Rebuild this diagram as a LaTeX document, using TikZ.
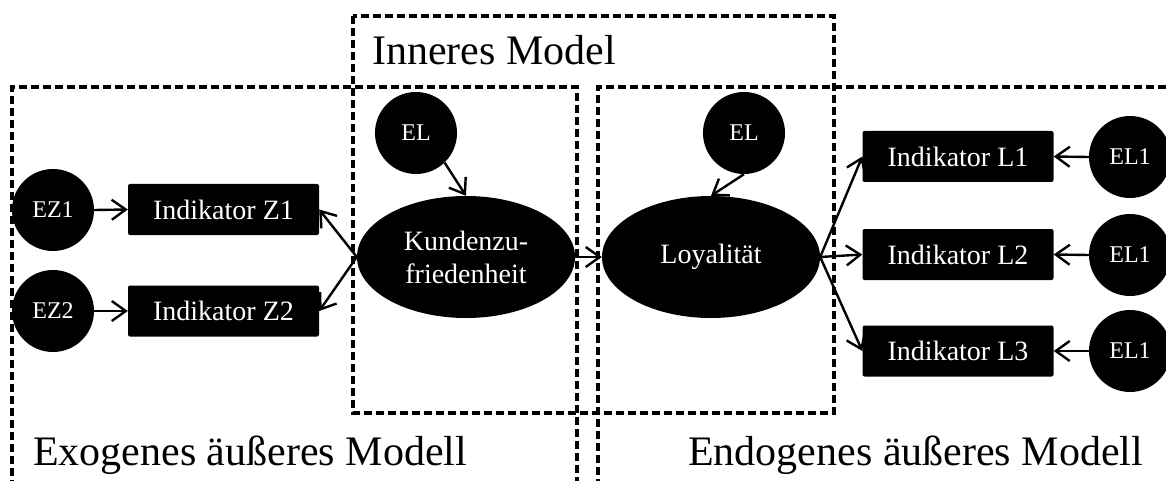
\documentclass[tikz,border=0pt]{standalone}
\usepackage{fontspec}
\setmainfont{Liberation Serif}
\usetikzlibrary{shapes.geometric,arrows.meta}
\begin{document}
\begin{tikzpicture}[x=1pt,y=-1pt,
  circ/.style={circle,fill=black,text=white,minimum size=82pt,inner sep=0pt,font=\fontsize{24}{27}\selectfont},
  ind/.style={rectangle,rounded corners=2pt,fill=black,text=white,minimum width=191pt,minimum height=51pt,inner sep=0pt,font=\fontsize{28}{32}\selectfont},
  lat/.style={ellipse,fill=black,text=white,minimum width=218pt,minimum height=122pt,inner sep=0pt,align=center,font=\fontsize{28}{33}\selectfont},
  dbox/.style={line width=3.2pt,dash pattern=on 8pt off 4pt},
  conn/.style={line width=2.4pt,-{Straight Barb[length=14pt,width=20pt,line width=2.4pt]}},
  title/.style={inner sep=0pt,anchor=base west,font=\fontsize{42}{46}\selectfont}
]
\useasboundingbox (0,0) rectangle (1166,481);
% dashed frames
\draw[dbox] (12,500) -- (12,87) -- (577,87) -- (577,500);
\draw[dbox] (1190,87) -- (598,87) -- (598,500);
\draw[dbox] (353,16) rectangle (834,413);
% titles
\node[title] (tin) at (372,65) {Inneres Model};
\node[title] (tex) at (33,465) {Exogenes äußeres Modell};
\node[title] (ten) at (688,465) {Endogenes äußeres Modell};
% nodes
\node[circ] (ez1) at (53,210) {EZ1};
\node[circ] (ez2) at (53,311) {EZ2};
\node[ind] (z1) at (223.5,209.5) {Indikator Z1};
\node[ind] (z2) at (223.5,311) {Indikator Z2};
\node[circ] (ela) at (416,133) {EL};
\node[lat] (kz) at (466,257) {Kundenzu-\\friedenheit};
\node[circ] (elb) at (744,133) {EL};
\node[lat] (loy) at (711,257) {Loyalität};
\node[ind] (l1) at (958,156.5) {Indikator L1};
\node[ind] (l2) at (958,254.5) {Indikator L2};
\node[ind] (l3) at (958,351) {Indikator L3};
\node[circ] (e1a) at (1130,157) {EL1};
\node[circ] (e1b) at (1130,255) {EL1};
\node[circ] (e1c) at (1130,351) {EL1};
% connectors
\draw[conn] (ez1.east) -- (z1.west);
\draw[conn] (ez2.east) -- (z2.west);
\draw[conn] (kz.west) -- (z1.east);
\draw[conn] (kz.west) -- (z2.east);
\draw[conn] (ela.-46) -- (kz.north);
\draw[conn] (elb.south) -- (loy.north);
\draw[conn] (kz.east) -- (loy.west);
\draw[conn] (loy.east) -- (l1.west);
\draw[conn] (loy.east) -- (l2.west);
\draw[conn] (loy.east) -- (l3.west);
\draw[conn] (e1a.west) -- (l1.east);
\draw[conn] (e1b.west) -- (l2.east);
\draw[conn] (e1c.west) -- (l3.east);
\end{tikzpicture}
\end{document}
